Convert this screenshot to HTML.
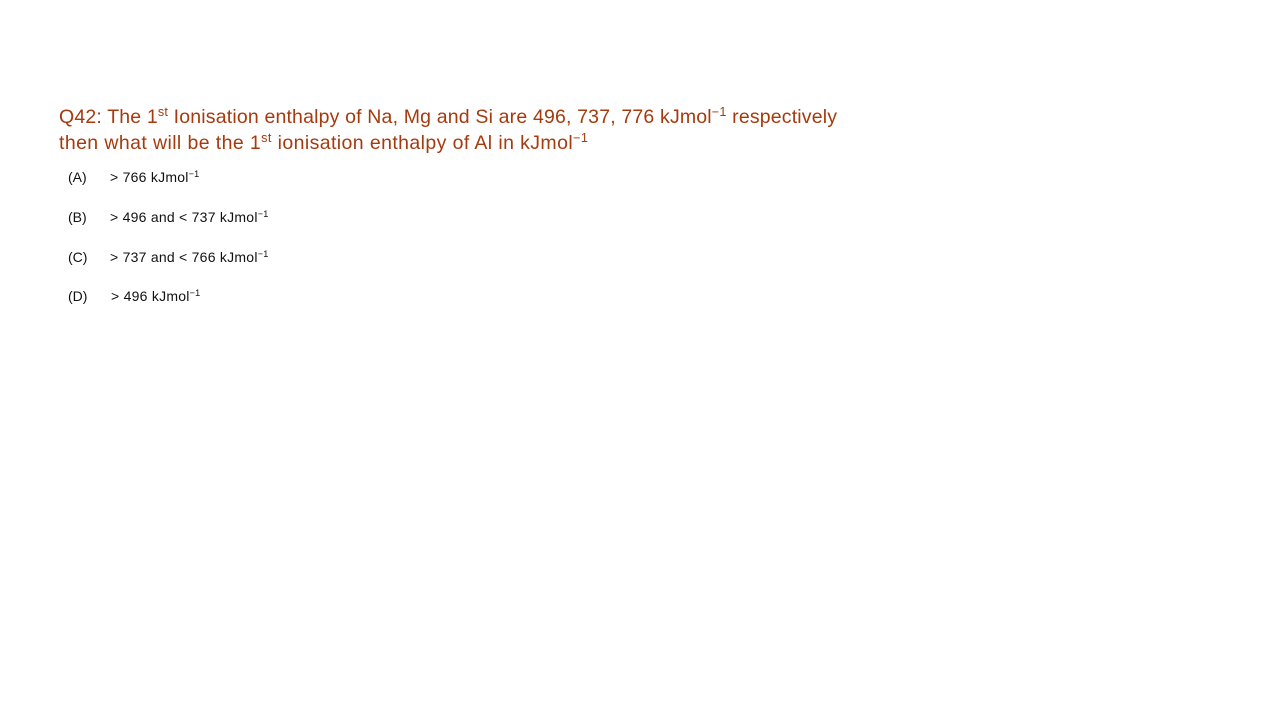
<!DOCTYPE html>
<html><head><meta charset="utf-8"><style>
body{margin:0;width:1280px;height:720px;background:#fff;font-family:"Liberation Sans",sans-serif;position:relative;overflow:hidden}
.q{position:absolute;left:59px;top:104px;color:#a63a0e;font-size:19.5px;line-height:26px;white-space:nowrap}
.l1{letter-spacing:0.17px}
.l2{letter-spacing:0.4px}
sup{font-size:0.65em;line-height:0;vertical-align:0.55em}
.o{position:absolute;left:68px;font-size:14px;color:#111;white-space:nowrap;letter-spacing:0.25px}
.o span.l{display:inline-block;width:42px;letter-spacing:0}
</style></head><body>
<div class="q"><span class="l1">Q42: The 1<sup>st</sup> Ionisation enthalpy of Na, Mg and Si are 496, 737, 776 kJmol<sup>−1</sup> respectively</span><br><span class="l2">then what will be the 1<sup>st</sup> ionisation enthalpy of Al in kJmol<sup>−1</sup></span></div>
<div class="o" style="top:169px"><span class="l">(A)</span>&gt; 766 kJmol<sup>−1</sup></div>
<div class="o" style="top:209px"><span class="l">(B)</span>&gt; 496 and &lt; 737 kJmol<sup>−1</sup></div>
<div class="o" style="top:249px"><span class="l">(C)</span>&gt; 737 and &lt; 766 kJmol<sup>−1</sup></div>
<div class="o" style="top:288px"><span class="l" style="width:43px">(D)</span>&gt; 496 kJmol<sup>−1</sup></div>
</body></html>
